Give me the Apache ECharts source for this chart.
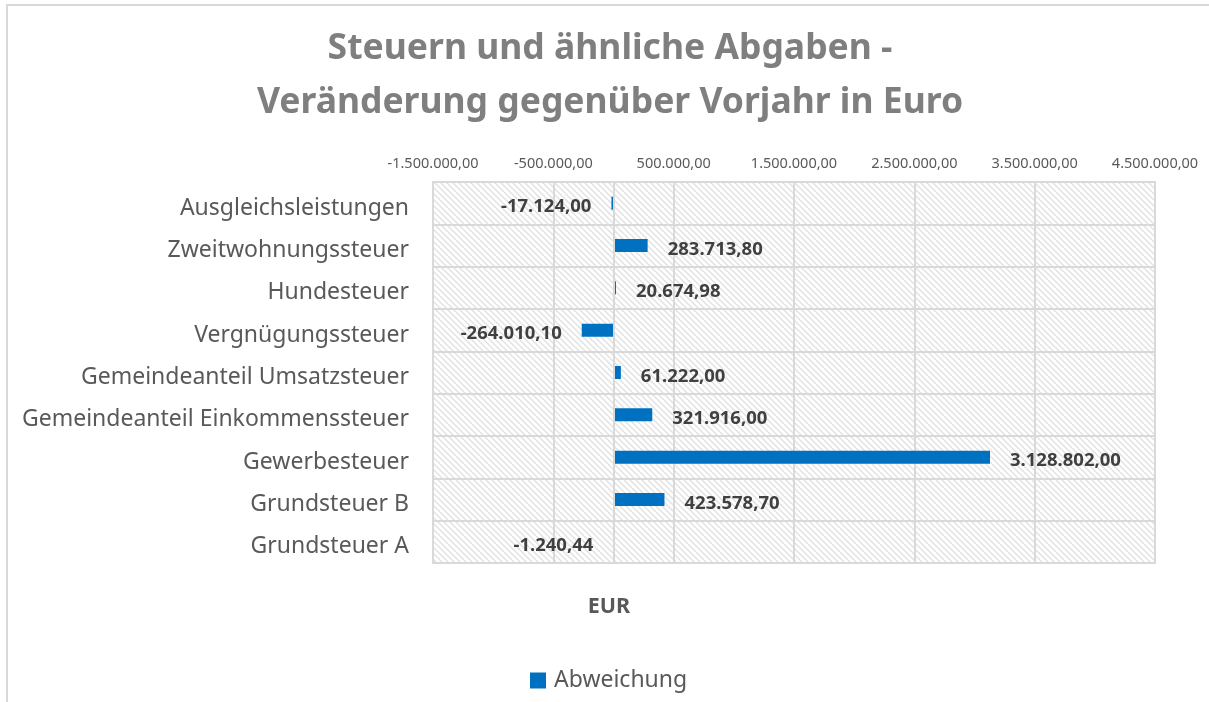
<!DOCTYPE html>
<html>
<head>
<meta charset="utf-8">
<script src="https://cdn.jsdelivr.net/npm/echarts@6/dist/echarts.min.js"></script>
<style>
	html, body { margin: 0; padding: 0; background: #fff; }
	#chart { width: 1209px; height: 702px; }
</style>
</head>
<body>
<div id="chart"></div>
<script>
// Kategorien (von unten nach oben)
var categories = [
	'Grundsteuer A',
	'Grundsteuer B',
	'Gewerbesteuer',
	'Gemeindeanteil Einkommenssteuer',
	'Gemeindeanteil Umsatzsteuer',
	'Vergnügungssteuer',
	'Hundesteuer',
	'Zweitwohnungssteuer',
	'Ausgleichsleistungen'
];
// Abweichung zum Vorjahr in Euro
var abweichung = [-1240.44, 423578.70, 3128802.00, 321916.00, 61222.00, -264010.10, 20674.98, 283713.80, -17124.00];
// Achse
var axisMin = -1500000;
var axisMax = 4500000;
var axisStep = 1000000;

// deutsches Zahlenformat 1.234.567,89
function formatDE(v){
	var neg = v < 0;
	var s = Math.abs(v).toFixed(2).split('.');
	var ganz = s[0].replace(/\B(?=(\d{3})+(?!\d))/g, '.');
	return (neg ? '-' : '') + ganz + ',' + s[1];
}

// Schraffur für den Plotbereich
function hatchPattern(){
	var c = document.createElement('canvas');
	var n = 6;
	c.width = n; c.height = n;
	var ctx = c.getContext('2d');
	ctx.fillStyle = '#ffffff';
	ctx.fillRect(0, 0, n, n);
	ctx.strokeStyle = '#e2e2e2';
	ctx.lineWidth = 1.5;
	ctx.beginPath();
	ctx.moveTo(-1, -1); ctx.lineTo(n + 1, n + 1);
	ctx.moveTo(-1, n - 1); ctx.lineTo(1, n + 1);
	ctx.moveTo(n - 1, -1); ctx.lineTo(n + 1, 1);
	ctx.stroke();
	return c;
}

var barData = abweichung.map(function(v){
	return {
		value: v,
		label: { position: v < 0 ? 'left' : 'right' }
	};
});

var myChart = echarts.init(document.getElementById('chart'));
myChart.setOption({
	animation: false,
	backgroundColor: '#ffffff',
	textStyle: { fontFamily: 'Noto Sans' },
	graphic: [{
		type: 'rect',
		silent: true,
		shape: { x: 7, y: 5, width: 1300, height: 800 },
		style: { fill: 'none', stroke: '#d9d9d9', lineWidth: 2 }
	}],
	title: [{
		text: 'Steuern und ähnliche Abgaben -\nVeränderung gegenüber Vorjahr in Euro',
		left: 605,
		textAlign: 'center',
		top: 17,
		textStyle: {
			fontSize: 35.5,
			fontWeight: 'bold',
			color: '#7f7f7f',
			lineHeight: 54
		}
	}, {
		text: 'EUR',
		left: 604,
		textAlign: 'center',
		top: 591,
		textStyle: { fontSize: 21.5, fontWeight: 'bold', color: '#595959' }
	}],
	legend: {
		data: ['Abweichung'],
		icon: 'rect',
		left: 525,
		top: 664,
		itemWidth: 16,
		itemHeight: 16,
		itemGap: 6,
		textStyle: { fontSize: 23, color: '#595959', padding: [0, 0, 0, 3] }
	},
	grid: {
		left: 433,
		right: 54,
		top: 182,
		bottom: 139,
		show: true,
		backgroundColor: { image: hatchPattern(), repeat: 'repeat' },
		borderColor: '#d9d9d9',
		borderWidth: 2
	},
	xAxis: {
		type: 'value',
		position: 'top',
		min: axisMin,
		max: axisMax,
		interval: axisStep,
		axisLine: { show: false },
		axisTick: { show: false },
		axisLabel: {
			fontSize: 14.5,
			color: '#595959',
			margin: 11,
			formatter: function(v){ return formatDE(v); }
		},
		splitLine: { lineStyle: { color: '#d9d9d9', width: 2 } }
	},
	yAxis: {
		type: 'category',
		data: categories,
		axisLine: { show: false },
		axisTick: { show: false },
		axisLabel: {
			margin: 24,
			formatter: function(v){ return '{k|' + v + '}'; },
			rich: {
				k: { fontSize: 23, color: '#595959', padding: [10, 0, 0, 0] }
			}
		},
		splitLine: { show: true, lineStyle: { color: '#d9d9d9', width: 2 } }
	},
	series: [{
		name: 'Abweichung',
		type: 'bar',
		data: barData,
		barWidth: 13,
		itemStyle: { color: '#0070c0' },
		label: {
			show: true,
			distance: 20,
			offset: [0, 4],
			fontSize: 18.5,
			fontWeight: 'bold',
			color: '#404040',
			formatter: function(p){ return formatDE(p.value); }
		},
		markLine: {
			silent: true,
			symbol: 'none',
			label: { show: false },
			lineStyle: { color: '#d9d9d9', width: 2, type: 'solid' },
			data: [{ xAxis: 0 }]
		}
	}]
});
</script>
</body>
</html>
